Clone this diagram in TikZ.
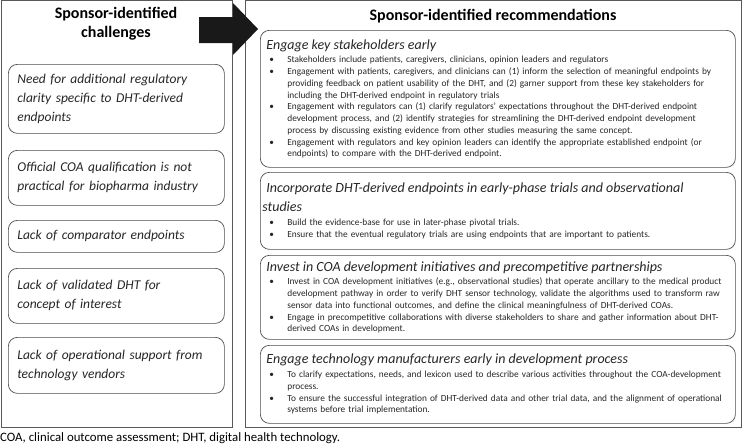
\documentclass[tikz,border=0pt]{standalone}
\usepackage{fontspec}
\setmainfont{Carlito}
\hyphenpenalty=10000
%% heading and bullet lines of the recommendation boxes
\newcommand{\rechead}[1]{{\fontsize{14}{19}\selectfont\itshape\hskip4pt #1\par}\vspace{2pt}}
\newcommand{\recitem}[1]{\par\hangindent=25pt\hangafter=1\noindent\hbox to 25pt{\hskip7pt\textbullet\hfil}#1\par}
\begin{document}
\begin{tikzpicture}[x=1pt,y=-1pt,%% pixel units, y going down
    panel/.style={draw=black!65,line width=.8pt},
    paneltitle/.style={font=\fontsize{16}{19}\selectfont\bfseries,align=center,inner sep=0pt},
    chbox/.style={draw=black!70,line width=.7pt,rounded corners=9pt,anchor=north west,
      minimum width=216pt,text width=198pt,inner xsep=9pt,align=left,text=black!85,
      font=\fontsize{13.5}{19}\selectfont\itshape},
    recbox/.style={draw=black!70,line width=.7pt,rounded corners=9pt,anchor=north west,
      minimum width=475pt,text width=471pt,inner xsep=2pt,align=left,text=black!85,
      font=\fontsize{9.35}{11.75}\selectfont}]
    \useasboundingbox (0,0) rectangle (743,447);%

    %% the two panels
    \draw[panel] (1,.5) rectangle (232,427);%
    \draw[panel] (245,.5) rectangle (741,427);%
    \node[paneltitle] (chtitle) at (116,23.5) {Sponsor-identified\\challenges};%
    \node[paneltitle] (rectitle) at (493,16) {Sponsor-identified recommendations};%

    %% challenges
    \node[chbox,minimum height=69pt] (ch1) at (8,64) {Need for additional regulatory\\clarity specific to DHT-derived\\endpoints};%
    \node[chbox,minimum height=55pt] (ch2) at (8,150) {Official COA qualification is not\\practical for biopharma industry};%
    \node[chbox,minimum height=32pt] (ch3) at (8,220) {Lack of comparator endpoints};%
    \node[chbox,minimum height=55pt] (ch4) at (8,268) {Lack of validated DHT for\\concept of interest};%
    \node[chbox,minimum height=56pt] (ch5) at (8,337) {Lack of operational support from\\technology vendors};%

    %% recommendations
    \node[recbox,minimum height=137pt] (recA) at (260,30) {%
      \rechead{Engage key stakeholders early}%
      \recitem{Stakeholders include patients, caregivers, clinicians, opinion leaders and regulators}%
      \recitem{Engagement with patients, caregivers, and clinicians can (1) inform the selection of meaningful endpoints by\newline providing feedback on patient usability of the DHT, and (2) garner support from these key stakeholders for\newline including the DHT-derived endpoint in regulatory trials}%
      \recitem{Engagement with regulators can (1) clarify regulators' expectations throughout the DHT-derived endpoint\newline development process, and (2) identify strategies for streamlining the DHT-derived endpoint development\newline process by discussing existing evidence from other studies measuring the same concept.}%
      \recitem{Engagement with regulators and key opinion leaders can identify the appropriate established endpoint (or\newline endpoints) to compare with the DHT-derived endpoint.}};%
    \node[recbox,minimum height=77pt] (recB) at (260,172) {%
      \rechead{Incorporate DHT-derived endpoints in early-phase trials and observational\newline studies}%
      \recitem{Build the evidence-base for use in later-phase pivotal trials.}%
      \recitem{Ensure that the eventual regulatory trials are using endpoints that are important to patients.}};%
    \node[recbox,minimum height=84pt] (recC) at (260,255) {%
      \rechead{Invest in COA development initiatives and precompetitive partnerships}%
      \recitem{Invest in COA development initiatives (e.g., observational studies) that operate ancillary to the medical product\newline development pathway in order to verify DHT sensor technology, validate the algorithms used to transform raw\newline sensor data into functional outcomes, and define the clinical meaningfulness of DHT-derived COAs.}%
      \recitem{Engage in precompetitive collaborations with diverse stakeholders to share and gather information about DHT-\newline derived COAs in development.}};%
    \node[recbox,minimum height=78pt] (recD) at (260,345) {%
      \rechead{Engage technology manufacturers early in development process}%
      \recitem{To clarify expectations, needs, and lexicon used to describe various activities throughout the COA-development\newline process.}%
      \recitem{To ensure the successful integration of DHT-derived data and other trial data, and the alignment of operational\newline systems before trial implementation.}};%

    %% block arrow between the panels
    \fill[black!90] (199,17) -- (233,17) -- (233,3) -- (258,29) -- (233,55) -- (233,43) -- (199,43) -- cycle;%

    \node[anchor=west,inner sep=0pt,font=\fontsize{12.8}{15}\selectfont] (note) at (0,438) {COA, clinical outcome assessment; DHT, digital health technology.};%
\end{tikzpicture}
\end{document}
